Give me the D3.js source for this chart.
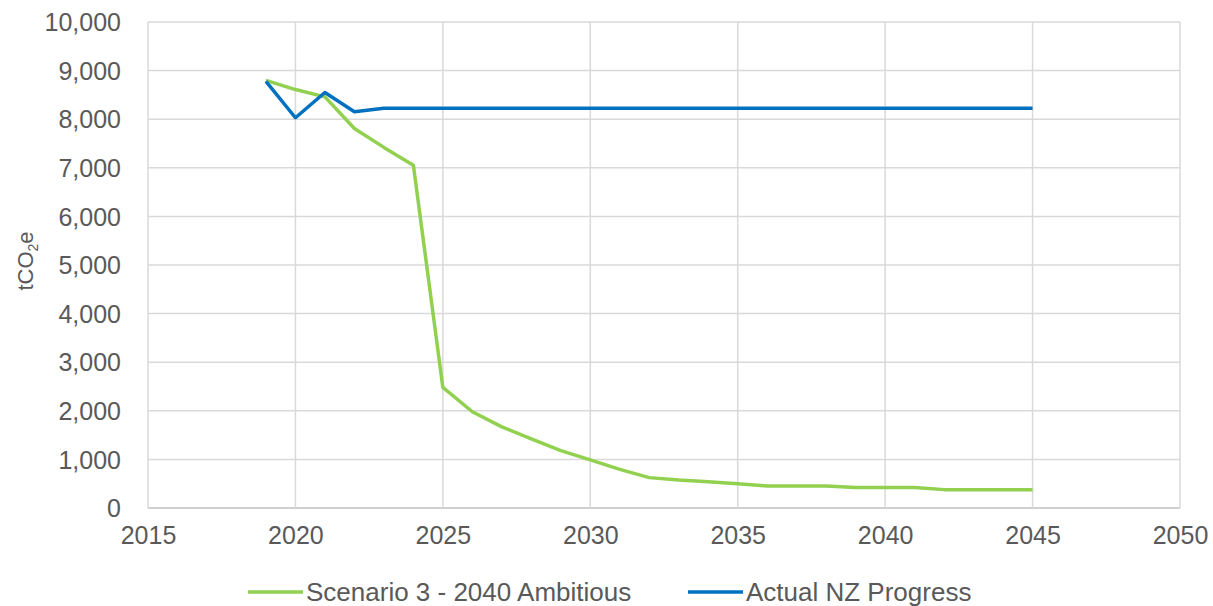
<!DOCTYPE html>
<html>
<head>
<meta charset="utf-8">
<script src="https://cdn.jsdelivr.net/npm/d3@7"></script>
<style>
  html, body { margin: 0; padding: 0; background: #fff; }
  svg { display: block; font-family: "Liberation Sans", Arial, sans-serif; }
</style>
</head>
<body>
<svg id="chart" width="1213" height="606"></svg>
<script>
const years = [2019, 2020, 2021, 2022, 2023, 2024, 2025, 2026, 2027, 2028, 2029, 2030, 2031, 2032,
  2033, 2034, 2035, 2036, 2037, 2038, 2039, 2040, 2041, 2042, 2043, 2044, 2045];
const scenario3 = [8800, 8610, 8460, 7810, 7420, 7055, 2480, 1980, 1670, 1420, 1180, 990, 795, 625,
  575, 540, 500, 455, 455, 455, 420, 420, 420, 378, 375, 375, 375];
const actualNZ = [8780, 8030, 8550, 8155, 8225, 8225, 8225, 8225, 8225, 8225, 8225, 8225, 8225, 8225,
  8225, 8225, 8225, 8225, 8225, 8225, 8225, 8225, 8225, 8225, 8225, 8225, 8225];
const xTicks = [2015, 2020, 2025, 2030, 2035, 2040, 2045, 2050];
const yTicks = [0, 1000, 2000, 3000, 4000, 5000, 6000, 7000, 8000, 9000, 10000];
const seriesNames = ["Scenario 3 - 2040 Ambitious", "Actual NZ Progress"];
const seriesColors = ["#92d050", "#0070c0"];

const svg = d3.select("#chart");
const pLeft = 148, pRight = 1180, pTop = 22, pBottom = 508;
const x = d3.scaleLinear().domain([2015, 2050]).range([pLeft, pRight]);
const y = d3.scaleLinear().domain([0, 10000]).range([pBottom, pTop]);

const textColor = "#595959";
const gridColor = "#d9d9d9";

// horizontal gridlines
svg.append("g").selectAll("line").data(yTicks).join("line")
  .attr("x1", pLeft).attr("x2", pRight)
  .attr("y1", d => y(d)).attr("y2", d => y(d))
  .attr("stroke", d => d === 0 ? "#bfbfbf" : gridColor).attr("stroke-width", 1.5);
// vertical gridlines
svg.append("g").selectAll("line").data(xTicks).join("line")
  .attr("x1", d => x(d)).attr("x2", d => x(d))
  .attr("y1", pTop).attr("y2", pBottom)
  .attr("stroke", gridColor).attr("stroke-width", 1.5);

// y axis labels
const yAxis = d3.axisLeft(y).tickValues(yTicks).tickSize(0).tickPadding(0)
  .tickFormat(d3.format(","));
const gy = svg.append("g").attr("transform", `translate(${pLeft - 27},0)`).call(yAxis);
gy.select(".domain").remove();
gy.selectAll("text").attr("fill", textColor).attr("font-size", 25)
  .attr("font-family", "Liberation Sans, Arial, sans-serif").attr("dy", "0.35em").attr("x", 0);

// x axis labels
const xAxis = d3.axisBottom(x).tickValues(xTicks).tickSize(0).tickPadding(0)
  .tickFormat(d3.format("d"));
const gx = svg.append("g").attr("transform", `translate(0,${pBottom})`).call(xAxis);
gx.select(".domain").remove();
gx.selectAll("text").attr("fill", textColor).attr("font-size", 25)
  .attr("font-family", "Liberation Sans, Arial, sans-serif").attr("y", 36).attr("dy", 0);

// y axis title
const yt = svg.append("text")
  .attr("transform", "translate(33,261) rotate(-90)")
  .attr("text-anchor", "middle").attr("fill", textColor).attr("font-size", 22);
yt.append("tspan").text("tCO");
yt.append("tspan").text("2").attr("font-size", 14).attr("dy", 5);
yt.append("tspan").text("e").attr("dy", -5);

// lines
const lineGen = d3.line().x((d, i) => x(years[i])).y(d => y(d));
[scenario3, actualNZ].forEach((vals, i) => {
  svg.append("path").datum(vals)
    .attr("d", lineGen)
    .attr("fill", "none")
    .attr("stroke", seriesColors[i])
    .attr("stroke-width", 3.5)
    .attr("stroke-linejoin", "round");
});

// legend
const legendPos = [248, 688];
const lg = svg.append("g").selectAll("g").data(seriesNames).join("g")
  .attr("transform", (d, i) => `translate(${legendPos[i]},592)`);
lg.append("line").attr("x1", 0).attr("x2", 55).attr("y1", 0).attr("y2", 0)
  .attr("stroke", (d, i) => seriesColors[i]).attr("stroke-width", 3.5);
lg.append("text").attr("x", 58).attr("y", 9).text(d => d)
  .attr("fill", textColor).attr("font-size", 26);
</script>
</body>
</html>
